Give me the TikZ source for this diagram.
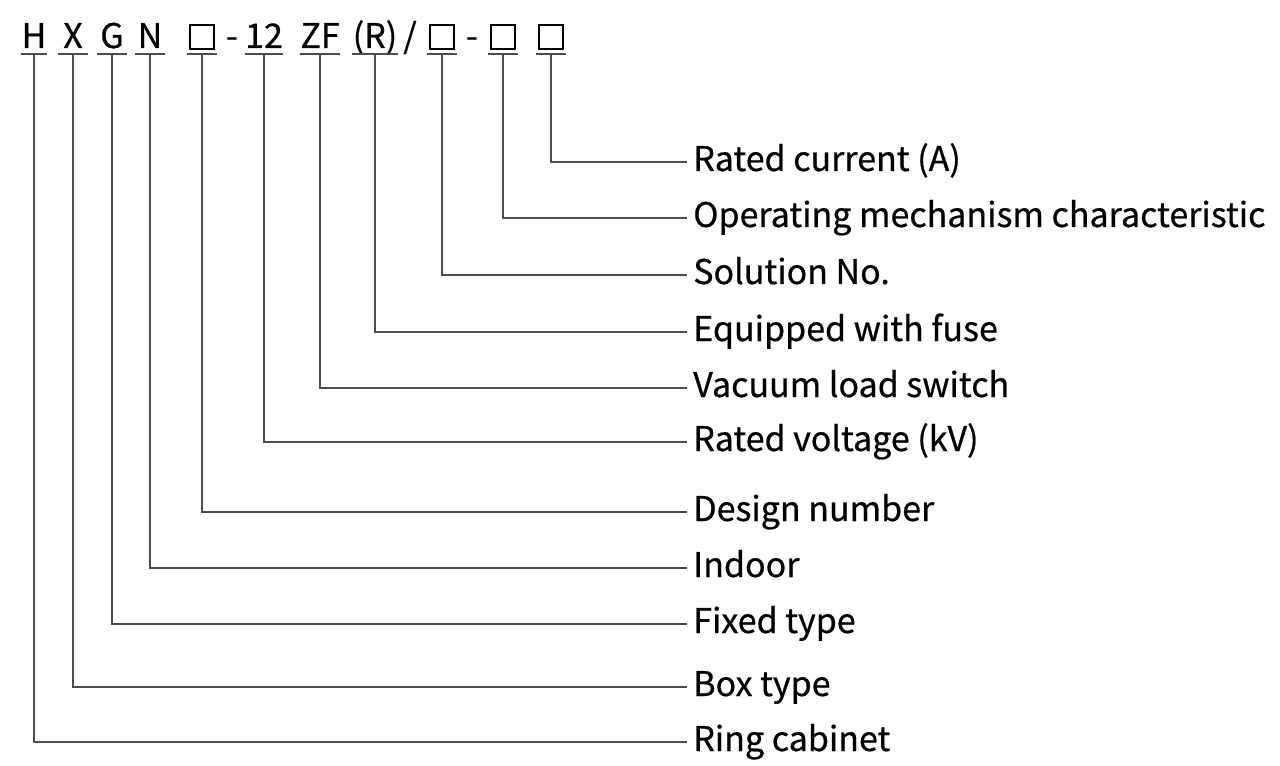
\documentclass[tikz,border=0pt]{standalone}
\usepackage{fontspec}
\setmainfont{Noto Sans CJK SC}[RawFeature={embolden=0.6}]
\usetikzlibrary{positioning}

\newcommand{\slot}{{\setlength{\fboxsep}{0pt}\setlength{\fboxrule}{1.2pt}\fbox{\rule{0pt}{16.5pt}\hspace{16.5pt}}}}

\begin{document}
\begin{tikzpicture}[x=0.75pt, y=-0.75pt,
  code/.style={anchor=base, inner sep=0pt, minimum width=22.5pt, font=\fontsize{25.5}{30}\selectfont},
  sep/.style={anchor=base, inner sep=0pt, font=\fontsize{25.5}{30}\selectfont},
  meaning/.style={anchor=west, inner xsep=4.5pt, inner ysep=0pt, text height=18pt, text depth=4.5pt, font=\fontsize{25.5}{30}\selectfont},
  lead/.style={draw=black!70, line width=1pt}]
  \useasboundingbox (0,0) rectangle (1280,766);

  % model code
  \node[code, minimum width=19.5pt] (h) at (34,48) {H};
  \node[code] (x) at (73,48) {X};
  \node[code] (g) at (112,48) {G};
  \node[code] (n) at (150,48) {N};
  \node[code] (d) at (202,48) {\slot};
  \node[sep] (dash1) at (232,48) {-};
  \node[code, minimum width=24.75pt] (v) at (264,48) {12};
  \node[code, minimum width=26.25pt] (zf) at (320,48) {ZF};
  \node[code, minimum width=29.25pt] (r) at (375,48) {(R)};
  \node[sep] (slash) at (410,48) {/};
  \node[code] (s) at (442,48) {\slot};
  \node[sep] (dash2) at (472,48) {-};
  \node[code] (m) at (503,48) {\slot};
  \node[code] (a) at (551,48) {\slot};

  % meanings
  \node[meaning] (cur) at (687,162) {Rated current (A)};
  \node[meaning] (mech) at (687,218) {Operating mechanism characteristic};
  \node[meaning] (sol) at (687,275) {Solution No.};
  \node[meaning] (fuse) at (687,332) {Equipped with fuse};
  \node[meaning] (vac) at (687,388) {Vacuum load switch};
  \node[meaning] (volt) at (687,442) {Rated voltage (kV)};
  \node[meaning] (des) at (687,512) {Design number};
  \node[meaning] (ind) at (687,568) {Indoor};
  \node[meaning] (fix) at (687,624) {Fixed type};
  \node[meaning] (box) at (687,687) {Box type};
  \node[meaning] (ring) at (687,742) {Ring cabinet};

  % underlines
  \foreach \c in {h,x,g,n,d,v,zf,r,s,m,a}
    \draw[lead] ([yshift=-4.5pt]\c.base west) -- ([yshift=-4.5pt]\c.base east);

  % leaders
  \draw[lead] ([yshift=-4.5pt]h.base) |- (ring.west);
  \draw[lead] ([yshift=-4.5pt]x.base) |- (box.west);
  \draw[lead] ([yshift=-4.5pt]g.base) |- (fix.west);
  \draw[lead] ([yshift=-4.5pt]n.base) |- (ind.west);
  \draw[lead] ([yshift=-4.5pt]d.base) |- (des.west);
  \draw[lead] ([yshift=-4.5pt]v.base) |- (volt.west);
  \draw[lead] ([yshift=-4.5pt]zf.base) |- (vac.west);
  \draw[lead] ([yshift=-4.5pt]r.base) |- (fuse.west);
  \draw[lead] ([yshift=-4.5pt]s.base) |- (sol.west);
  \draw[lead] ([yshift=-4.5pt]m.base) |- (mech.west);
  \draw[lead] ([yshift=-4.5pt]a.base) |- (cur.west);
\end{tikzpicture}
\end{document}
